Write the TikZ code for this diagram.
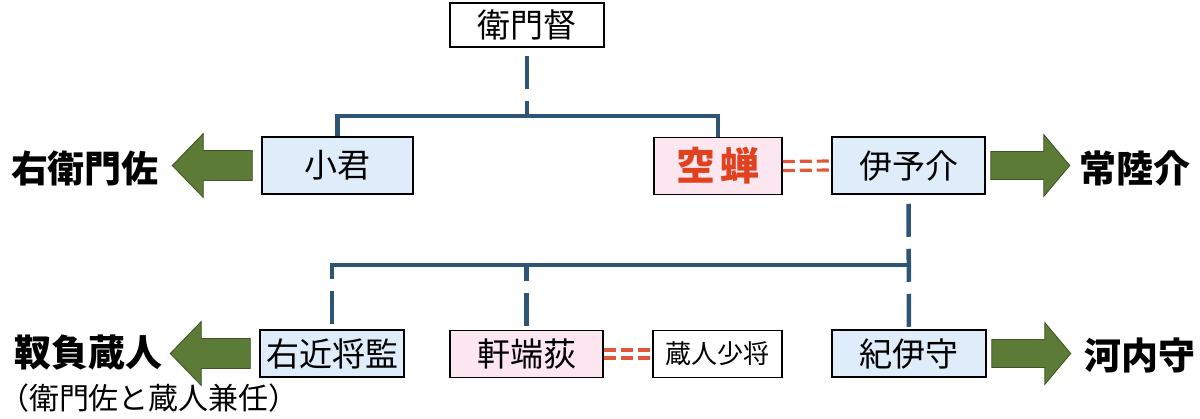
\documentclass[tikz,border=0pt]{standalone}
\usepackage{fontspec}
\setmainfont{Noto Sans CJK JP}
\usetikzlibrary{calc}
\definecolor{linec}{HTML}{2E5576}
\definecolor{bluef}{HTML}{DEEDF9}
\definecolor{pinkf}{HTML}{FCE6F0}
\definecolor{greenf}{HTML}{5B7B37}
\definecolor{greend}{HTML}{3D5225}
\definecolor{redc}{HTML}{E0411E}
\definecolor{eqc}{HTML}{E0583A}
\newcommand\fs[1]{\fontsize{#1}{#1}\selectfont}
\tikzset{
  box/.style={draw=black, line width=1.5pt, inner sep=0pt, align=center},
  row1/.style={box, minimum height=57},
  row2/.style={box, minimum height=47},
  blue/.style={fill=bluef},
  pink/.style={fill=pinkf},
  conn/.style={draw=linec, line width=4.5pt},
  garrow/.style={fill=greenf, draw=greend, line width=0.8pt, line join=miter},
  eq/.style={draw=eqc, line width=3.2pt, dash pattern=on 12pt off 5pt},
  big/.style={font=\fs{37}\bfseries},
  larrow/.pic={\path[garrow] (-9,-15) -- (-58,-15) -- (-58,-32) -- (-89,0) -- (-58,32) -- (-58,15) -- (-9,15) -- cycle;},
  rarrow/.pic={\path[garrow] (5,-14) -- (58,-14) -- (58,-31) -- (84,0) -- (58,31) -- (58,14) -- (5,14) -- cycle;}
}
\begin{document}
\begin{tikzpicture}[x=1pt,y=-1pt]
\useasboundingbox (0,0) rectangle (1200,418);
% nodes
\node[box, fill=white, minimum width=154, minimum height=44, font=\fs{33}] (emon) at (527,25) {衛門督};
\node[row1, blue, minimum width=151, font=\fs{33}] (kogimi) at (337.5,165.5) {小君};
\node[row1, pink, minimum width=128, font=\fs{39}\bfseries, text=redc] (utsu) at (718,166) {空\hspace{6pt}蝉};
\node[row1, blue, minimum width=153, font=\fs{33}] (iyo) at (908.5,165.5) {伊予介};
\node[row2, blue, minimum width=144, font=\fs{33}] (ukon) at (332,353.5) {右近将監};
\node[row2, pink, minimum width=153, font=\fs{33}] (noki) at (526.5,354) {軒端荻};
\node[row2, fill=white, minimum width=129, font=\fs{26}] (kuro) at (717.5,354) {蔵人少将};
\node[row2, blue, minimum width=154, font=\fs{33}] (kii) at (909,353.5) {紀伊守};
% outside labels
\node[big] (l1) at (85,168) {右衛門佐};
\node[big] (r1) at (1135,168) {常陸介};
\node[big] (l2) at (88,353) {靫負蔵人};
\node[big] (r2) at (1140,355) {河内守};
\node[font=\fs{30}, inner sep=0pt] (note) at (149,398) {（衛門佐と蔵人兼任）};
% connectors top
\coordinate (tl) at (kogimi.north |- 0,116);
\coordinate (tr) at (utsu.north |- 0,116);
\coordinate (tm) at (emon.south |- 0,116);
\draw[conn, dash pattern=on 33pt off 12pt, dash phase=37pt] (emon.south) -- (tm);
\draw[conn, line join=miter] (kogimi.north) -- (tl) -- (tr) -- (utsu.north);
% connectors bottom
\coordinate (bl) at (ukon.north |- 0,265);
\coordinate (bm) at (noki.north |- 0,265);
\coordinate (br) at (kii.north |- 0,265);
\draw[conn, dash pattern=on 33pt off 12pt, dash phase=36pt] (iyo.south) -- (kii.north);
\draw[conn] ($(bl)+(-2.25,0)$) -- (br);
\draw[conn, dash pattern=on 33pt off 12pt, dash phase=17pt] ($(bl)+(0,-2.25)$) -- (ukon.north);
\draw[conn, dash pattern=on 33pt off 12pt, dash phase=17pt] (bm) -- (noki.north);
% marriage lines
\draw[eq] ($(utsu.east)+(0,-4.5)$) -- ($(iyo.west)+(0,-4.5)$);
\draw[eq] ($(utsu.east)+(0,4.5)$) -- ($(iyo.west)+(0,4.5)$);
\draw[eq] ($(noki.east)+(0,-4)$) -- ($(kuro.west)+(0,-4)$);
\draw[eq] ($(noki.east)+(0,4)$) -- ($(kuro.west)+(0,4)$);
% arrows
\pic at (kogimi.west) {larrow};
\pic at (ukon.west) {larrow};
\pic at (iyo.east) {rarrow};
\pic at (kii.east) {rarrow};
\end{tikzpicture}
\end{document}
